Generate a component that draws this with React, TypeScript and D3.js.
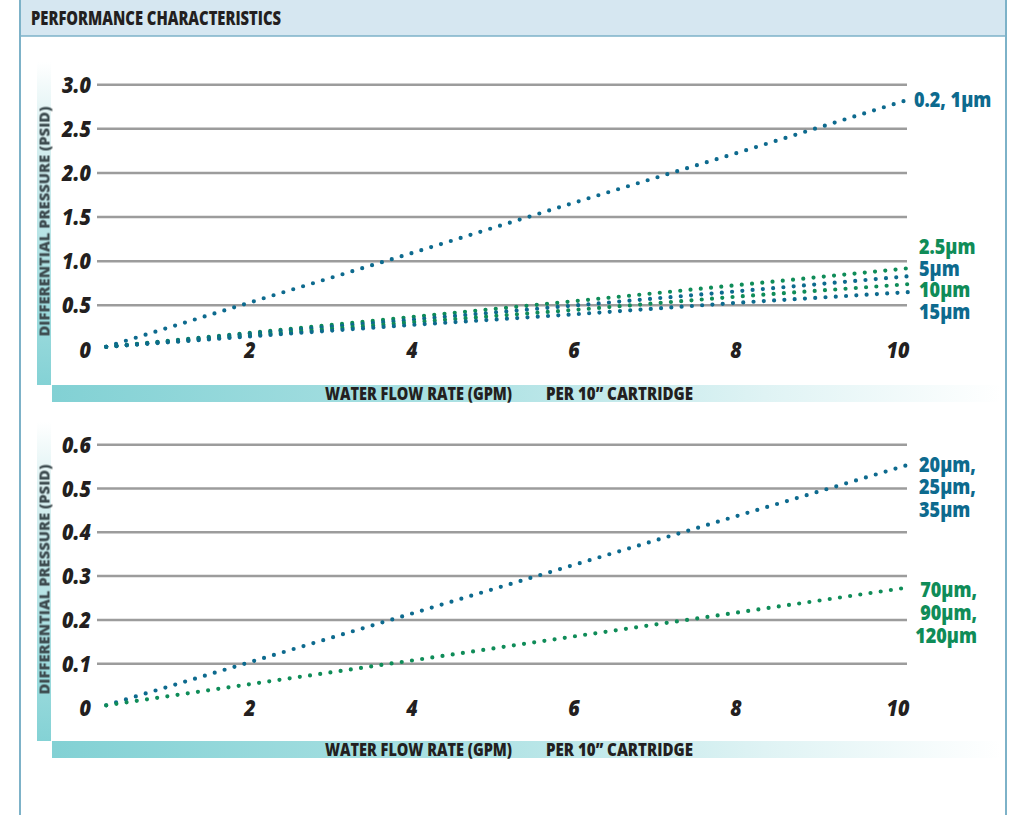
import React from "react";
import * as d3 from "d3";

// ---------- data ----------
const flowValues = [0.2, 2, 4, 6, 8, 10.1];

const series02_1um = [0.03, 0.54, 1.1, 1.67, 2.23, 2.83];
const series2_5um = [0.03, 0.19, 0.37, 0.55, 0.73, 0.92];
const series5um = [0.03, 0.18, 0.34, 0.5, 0.66, 0.83];
const series10um = [0.03, 0.16, 0.31, 0.45, 0.6, 0.74];
const series15um = [0.03, 0.15, 0.28, 0.4, 0.53, 0.65];

const series20_35um = [0.005, 0.105, 0.216, 0.327, 0.438, 0.554];
const series70_120um = [0.005, 0.054, 0.108, 0.163, 0.217, 0.274];

const xTicks = [2, 4, 6, 8, 10];
const topYTicks = [0, 0.5, 1.0, 1.5, 2.0, 2.5, 3.0];
const topYLabels = ["0", "0.5", "1.0", "1.5", "2.0", "2.5", "3.0"];
const bottomYTicks = [0, 0.1, 0.2, 0.3, 0.4, 0.5, 0.6];
const bottomYLabels = ["0", "0.1", "0.2", "0.3", "0.4", "0.5", "0.6"];

const title = "PERFORMANCE CHARACTERISTICS";
const yTitle = "DIFFERENTIAL PRESSURE (PSID)";
const xTitle1 = "WATER FLOW RATE (GPM)";
const xTitle2 = "PER 10\u201D CARTRIDGE";

const BLUE = "#0d6a8e";
const GREEN = "#0f8c58";

const topSeries = [
  { name: "0.2, 1µm", values: series02_1um, color: BLUE },
  { name: "2.5µm", values: series2_5um, color: GREEN },
  { name: "5µm", values: series5um, color: BLUE },
  { name: "10µm", values: series10um, color: GREEN },
  { name: "15µm", values: series15um, color: BLUE },
];
const bottomSeries = [
  { name: "20µm,|25µm,|35µm", values: series20_35um, color: BLUE },
  { name: "70µm,|90µm,|120µm", values: series70_120um, color: GREEN },
];

const FONT = "'Open Sans', 'Noto Sans', sans-serif";

type Series = { name: string; values: number[]; color: string };

function CText(props: {
  x: number;
  y: number;
  size: number;
  sx?: number;
  anchor?: string;
  italic?: boolean;
  color?: string;
  weight?: number;
  children: React.ReactNode;
}) {
  const { x, y, size, sx = 0.84, anchor = "start", italic = false, color = "#231f20", weight = 700 } = props;
  return (
    <text
      transform={`translate(${x},${y}) scale(${sx},1)`}
      textAnchor={anchor}
      fontFamily={FONT}
      fontWeight={weight}
      fontStyle={italic ? "italic" : "normal"}
      fontSize={size}
      fill={color}
    >
      {props.children}
    </text>
  );
}

// multi-line label block: one <text>, lines as tspans
function LabelBlock(props: {
  x: number;
  y: number;
  lines: { t: string; color: string }[];
  lineH: number;
  anchor?: string;
}) {
  const { x, y, lines, lineH, anchor = "start" } = props;
  return (
    <CText x={x} y={y} size={20.5} sx={0.88} anchor={anchor} weight={800}>
      {lines.map((l, i) => (
        <tspan key={i} x={0} dy={i === 0 ? 0 : lineH} fill={l.color}>
          {l.t}
        </tspan>
      ))}
    </CText>
  );
}

function Chart(props: {
  yMax: number;
  yTop: number;
  yZero: number;
  yTicks: number[];
  yLabels: string[];
  series: Series[];
  barTop: number;
  barBottom: number;
  id: string;
  labels: React.ReactNode;
}) {
  const { yMax, yTop, yZero, yTicks, yLabels, series, barTop, barBottom, id } = props;
  const x = d3.scaleLinear().domain([0, 10]).range([90, 900]);
  const y = d3.scaleLinear().domain([0, yMax]).range([yZero, yTop]);
  const line = d3
    .line<number>()
    .x((_, i) => x(flowValues[i]))
    .y((v) => y(v));
  const hbarH = 17;
  return (
    <g>
      <defs>
        <linearGradient id={`vg${id}`} x1="0" y1="0" x2="0" y2="1">
          <stop offset="0" stopColor="#ffffff" />
          <stop offset="0.2" stopColor="#dcf1f2" />
          <stop offset="1" stopColor="#84d2d5" />
        </linearGradient>
        <linearGradient id={`hg${id}`} x1="0" y1="0" x2="1" y2="0">
          <stop offset="0" stopColor="#82d1d4" />
          <stop offset="0.45" stopColor="#aee2e4" />
          <stop offset="0.75" stopColor="#dff3f4" />
          <stop offset="1" stopColor="#ffffff" />
        </linearGradient>
        <filter id={`blur${id}`} x="-20%" y="-5%" width="140%" height="110%">
          <feGaussianBlur stdDeviation="0.35" />
        </filter>
      </defs>
      {/* axis bars */}
      <rect x={37} y={barTop} width={14} height={barBottom - barTop} fill={`url(#vg${id})`} />
      <rect x={52} y={barBottom} width={950} height={hbarH} fill={`url(#hg${id})`} />
      <text
        transform={`translate(49.5,${(barTop + barBottom) / 2 - 2}) rotate(-90)`}
        textAnchor="middle"
        fontFamily={FONT}
        fontWeight={800}
        fontSize={14}
        fill="#3d4b4f"
        textLength={230}
        lengthAdjust="spacingAndGlyphs"
        filter={`url(#blur${id})`}
      >
        {yTitle}
      </text>
      <text
        x={325}
        y={barBottom + 14.5}
        fontFamily={FONT}
        fontWeight={800}
        fontSize={17.5}
        fill="#231f20"
        textLength={187}
        lengthAdjust="spacingAndGlyphs"
      >
        {xTitle1}
      </text>
      <text
        x={546}
        y={barBottom + 14.5}
        fontFamily={FONT}
        fontWeight={800}
        fontSize={17.5}
        fill="#231f20"
        textLength={147}
        lengthAdjust="spacingAndGlyphs"
      >
        {xTitle2}
      </text>
      {/* gridlines */}
      {yTicks.map((t) =>
        t === 0 ? null : (
          <line key={t} x1={97} x2={907} y1={y(t)} y2={y(t)} stroke="#9c9c9c" strokeWidth={2.5} />
        )
      )}
      {/* y labels */}
      {yTicks.map((t, i) => (
        <CText key={t} x={91} y={y(t) + 8} size={23} sx={0.86} anchor="end" italic weight={800}>
          {yLabels[i]}
        </CText>
      ))}
      {/* x labels */}
      {xTicks.map((t) => (
        <CText key={t} x={x(t) - 2} y={yZero + 8} size={23} sx={0.86} anchor="middle" italic weight={800}>
          {t}
        </CText>
      ))}
      {/* series */}
      {series.map((s) => (
        <path
          key={s.name}
          d={line(s.values) || ""}
          fill="none"
          stroke={s.color}
          strokeWidth={4.2}
          strokeLinecap="round"
          strokeDasharray="0 10.3"
        />
      ))}
      {props.labels}
    </g>
  );
}

export default function App() {
  const topLabels = (
    <g>
      <LabelBlock x={914} y={107} lineH={0} lines={[{ t: topSeries[0].name, color: topSeries[0].color }]} />
      <LabelBlock
        x={919}
        y={254}
        lineH={21.6}
        lines={topSeries.slice(1).map((s) => ({ t: s.name, color: s.color }))}
      />
    </g>
  );
  const bottomLabels = (
    <g>
      <LabelBlock
        x={919}
        y={472}
        lineH={22.5}
        lines={bottomSeries[0].name.split("|").map((t) => ({ t, color: bottomSeries[0].color }))}
      />
      <LabelBlock
        x={977}
        y={597}
        lineH={23}
        anchor="end"
        lines={bottomSeries[1].name.split("|").map((t) => ({ t, color: bottomSeries[1].color }))}
      />
    </g>
  );
  return (
    <svg
      width={1010}
      height={815}
      style={{ position: "absolute", left: 0, top: 0, background: "#ffffff" }}
    >
      <rect x={0} y={0} width={1010} height={815} fill="#ffffff" />
      {/* header band */}
      <rect x={20} y={-2} width={986} height={38} fill="#d6e7f1" />
      <line x1={20} x2={1006} y1={36} y2={36} stroke="#7db2c8" strokeWidth={1.5} />
      <line x1={20} x2={20} y1={0} y2={815} stroke="#7db2c8" strokeWidth={2} />
      <line x1={1006} x2={1006} y1={0} y2={815} stroke="#7db2c8" strokeWidth={2} />
      <text
        x={31}
        y={25}
        fontFamily={FONT}
        fontWeight={800}
        fontSize={18.5}
        fill="#231f20"
        textLength={250}
        lengthAdjust="spacingAndGlyphs"
      >
        {title}
      </text>
      <Chart
        id="a"
        yMax={3}
        yTop={84.7}
        yZero={349.5}
        yTicks={topYTicks}
        yLabels={topYLabels}
        series={topSeries}
        barTop={62}
        barBottom={385}
        labels={topLabels}
      />
      <Chart
        id="b"
        yMax={0.6}
        yTop={444.7}
        yZero={707.5}
        yTicks={bottomYTicks}
        yLabels={bottomYLabels}
        series={bottomSeries}
        barTop={422}
        barBottom={741}
        labels={bottomLabels}
      />
    </svg>
  );
}
